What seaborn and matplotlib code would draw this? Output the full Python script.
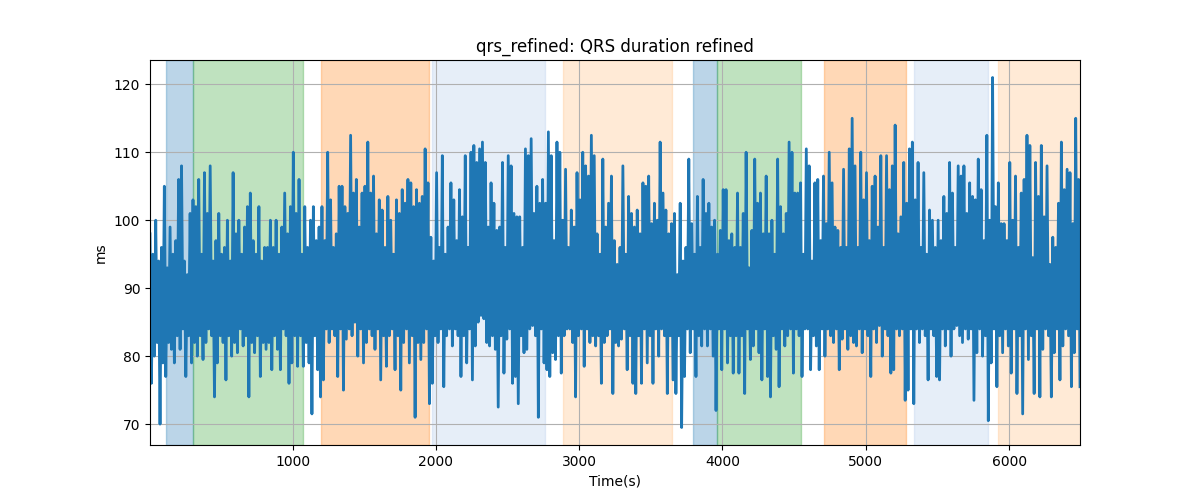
import numpy as np
import matplotlib
matplotlib.use("Agg")
import matplotlib.pyplot as plt
import seaborn as sns

# samples every 10 s, alternating upper / lower excursions
step = 10
t0 = 5
qrs_high = [
    98, 95, 100, 94, 96, 105, 93, 99, 95, 97, 106, 108, 94, 92, 101, 103, 102, 106, 95, 107,
    101, 108, 94, 97, 101, 95, 96, 100, 94, 107, 98, 100, 95, 99, 102, 104, 97, 95, 102, 94, 96,
    96, 100, 96, 100, 95, 99, 104, 98, 102, 110, 101, 106, 95, 102, 96, 100, 102, 97, 99, 102,
    97, 110, 103, 96, 98, 105, 105, 102, 101, 112.5, 104, 106, 99, 104, 105, 111.5, 104, 106.5, 98, 103, 101.5,
    96, 103.5, 100, 95, 103, 101, 104.5, 102.5, 106, 105.5, 102, 104.5, 102.5, 103.5, 110.5, 105.5, 97.5, 94, 107, 96,
    109.5, 95, 99, 105.5, 103, 97, 104.5, 100.5, 109.5, 96, 110, 111, 108.5, 110.5, 111.5, 108.5, 99, 105.5, 102.5, 98.5, 99,
    108.5, 96, 109.5, 108, 101, 100.5, 100.5, 96, 110.5, 109.5, 112, 101, 105, 102.5, 106, 102.5, 113, 109.5, 97, 111.5,
    110, 100, 107.5, 96, 101.5, 99, 107, 103, 110, 108, 106.5, 112.5, 109.5, 98, 95, 109, 99, 102.5, 106.5, 97, 93.5,
    96, 108, 95, 103.5, 101, 99, 101.5, 98, 105.5, 105, 106.5, 99.5, 102.5, 100, 111.5, 104, 101.5, 98, 99.5, 101,
    92, 102.5, 94, 96, 109, 99.5, 95, 103.5, 96, 106, 101, 102.5, 99, 100, 95, 98.5, 104.5, 104.5, 97, 98, 96,
    104, 96, 101, 110, 93, 98.5, 109, 102.5, 104, 98, 106.5, 98, 100, 95, 109, 102, 98, 101, 111.5, 110,
    104, 104, 105.5, 95, 110.5, 108, 94, 105.5, 106, 97, 106.5, 99.5, 110, 105.5, 99, 98.5, 96, 107.5, 96, 110.5, 115,
    108, 96, 110, 103, 107, 97, 105, 106.5, 99, 109.5, 96, 109.5, 104.5, 108, 114, 98, 100.5, 108.5, 102.5, 110.5,
    111.5, 103, 108.5, 96, 107, 95, 101.5, 100, 96, 100, 97, 103.5, 101, 108.5, 104, 96, 108, 106.5, 108, 101, 105.5,
    103.5, 103, 109, 104.5, 97, 112.5, 100, 121, 102, 105.5, 99.5, 99.5, 97, 108.5, 100, 106.5, 96, 104, 106,
    112.5, 111, 94.5, 108.5, 103.5, 111, 100.5, 108, 93.5, 97.5, 96, 102.5, 111.5, 104.5, 107.5, 107, 99.5, 115, 106,
]
qrs_low = [
    76, 80, 82, 70, 79, 77, 82, 81, 79, 83, 81, 84, 77, 83, 79, 82, 80, 83, 79.5, 82,
    84, 83, 74, 79, 83, 82, 76.5, 83, 80, 82, 80.5, 84, 81.5, 83, 74, 82, 80.5, 83, 77, 82, 81,
    82, 78, 83, 81, 78, 84, 83, 76, 79, 83, 78.5, 83, 78.5, 82, 79, 71.5, 83, 78, 74, 76.5,
    84, 82, 84, 83, 77, 84, 75, 82.5, 84, 83, 85, 80, 84, 79, 82, 84, 83, 81, 84, 76.5, 83,
    78.5, 83, 84, 78, 83, 75, 82, 84, 79, 83, 71, 82, 79.5, 82, 84, 73, 76, 83, 82, 84,
    75.5, 83, 84, 81.5, 84, 83, 77, 83, 79, 84, 76.5, 81.5, 85, 86, 85.5, 82, 81.5, 83, 81, 72.5, 83,
    77.5, 82.5, 84, 76, 77, 73, 83, 80.5, 81, 84, 84.5, 83, 71, 84, 79, 78, 77, 80.5, 79.5, 83,
    77.5, 83, 84, 84, 82, 74, 83, 84, 78.5, 84, 82, 83, 81.5, 83, 76, 82, 83, 84, 74.5, 82, 81.5,
    82.5, 84, 78, 83, 76, 74.5, 83, 76, 84, 79, 83, 76, 84, 80, 84, 83, 74.5, 83, 76.5, 74.5,
    83, 69.5, 77, 84, 80.5, 84, 77, 83, 81.5, 84, 81.5, 84, 80, 72, 84, 78, 84, 79, 83, 77.5, 83,
    77.5, 83, 74.5, 84, 79.5, 81.5, 84, 80.5, 76.5, 84, 77, 74, 83, 81, 75.5, 84, 81.5, 83, 84, 77.5,
    84, 83, 77, 84, 84, 78, 83, 81.5, 78, 84, 80, 84, 83, 82, 84, 78, 82.5, 84, 81, 83, 82,
    81.5, 84, 80.5, 84, 83, 77, 84, 82, 84.5, 80, 84, 83, 77.5, 78, 84, 83, 84, 73.5, 75, 84,
    73, 84, 82, 84, 83, 76.5, 84, 83, 77, 76.5, 84, 81.5, 84, 80, 84, 84.5, 83, 82, 84, 82.5, 84,
    73.5, 80.5, 84, 80, 83, 70.5, 79, 84, 75.5, 83, 80.5, 84, 81.5, 77.5, 84, 74.5, 83, 71.5, 84,
    79.5, 83, 74.5, 84, 74, 81, 84, 83, 74, 80.5, 84, 76.5, 81.5, 84, 83, 75.5, 80.5, 84, 75.5,
]

# annotated segments (start, end in seconds)
seg_start = [115, 305, 1196, 1972, 2890, 3792, 3960, 4706, 5336, 5923]
seg_end = [305, 1072, 1949, 2762, 3648, 3960, 4545, 5278, 5851, 6510]
seg_colors = ["tab:blue", "tab:green", "tab:orange", "#aec7e8", "#ffbb78",
              "tab:blue", "tab:green", "tab:orange", "#aec7e8", "#ffbb78"]

qrs = np.empty(len(qrs_high) + len(qrs_low))
qrs[0::2] = qrs_high
qrs[1::2] = qrs_low
t = t0 + np.arange(len(qrs)) * step

fig, ax = plt.subplots(figsize=(12, 5), dpi=100)

for s, e, c in zip(seg_start, seg_end, seg_colors):
    ax.axvspan(s, e, color=c, alpha=0.3)

sns.lineplot(x=t, y=qrs, ax=ax, color="tab:blue", estimator=None, linewidth=2)

ax.set_xlim(t[0], t[-1])
ax.set_title("qrs_refined: QRS duration refined")
ax.set_xlabel("Time(s)")
ax.set_ylabel("ms")
ax.grid(True)

plt.savefig("out.png")
